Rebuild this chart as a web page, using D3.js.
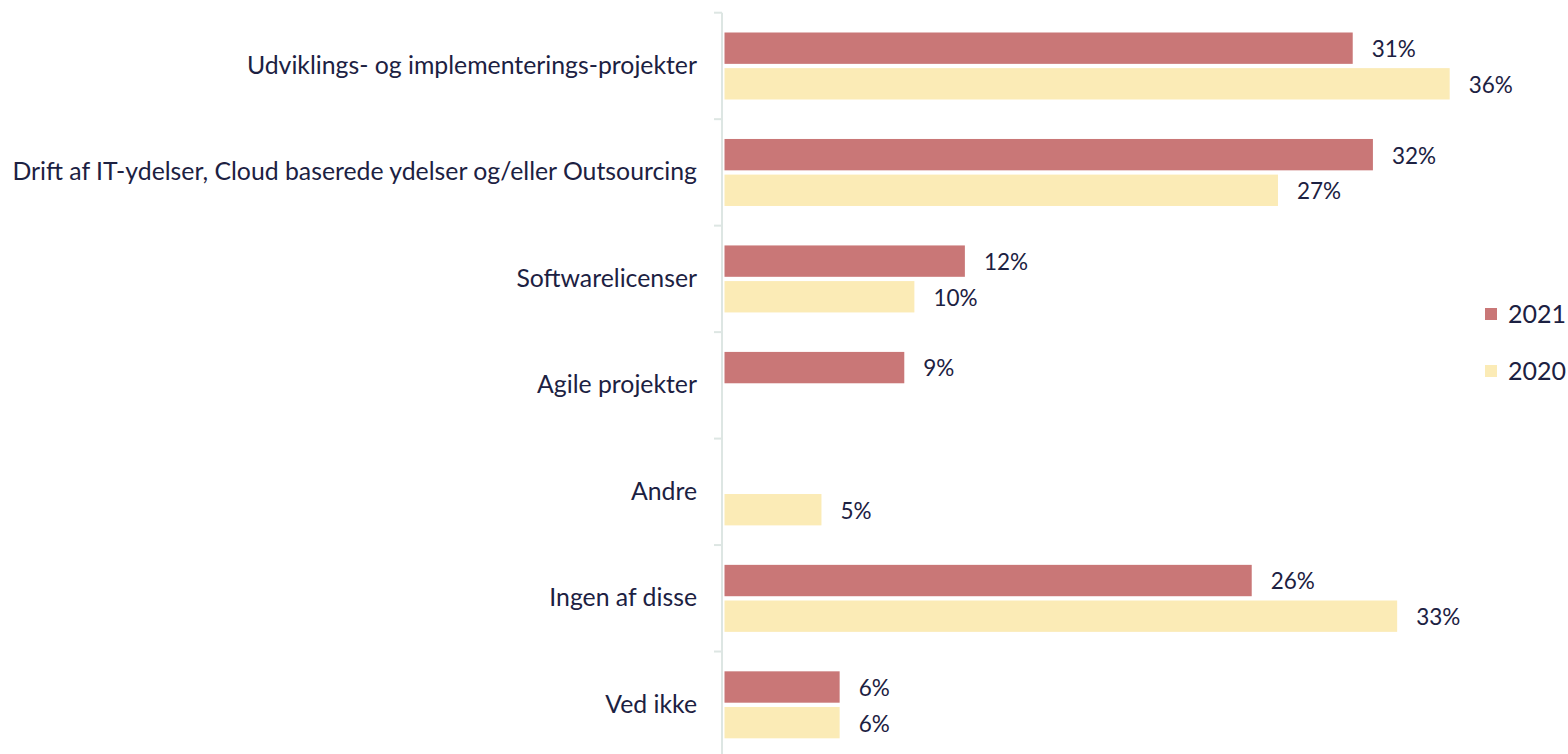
<!DOCTYPE html>
<html>
<head>
<meta charset="utf-8">
<script src="https://cdn.jsdelivr.net/npm/d3@7"></script>
<style>
  body { margin: 0; background: #fff; }
  svg text { font-family: Lato, "Open Sans", sans-serif; fill: #1c2142; }
</style>
</head>
<body>
<div id="chart"></div>
<script>
// categories, top to bottom
let categories = [
    "Udviklings- og implementerings-projekter",
    "Drift af IT-ydelser, Cloud baserede ydelser og/eller Outsourcing",
    "Softwarelicenser",
    "Agile projekter",
    "Andre",
    "Ingen af disse",
    "Ved ikke"
];
let series = ["2021", "2020"];

// values in %, null = no bar
let values2021 = [31.1, 32.1, 11.9, 8.9, null, 26.1, 5.7];
let values2020 = [35.9, 27.4, 9.4, null, 4.8, 33.3, 5.7];

// labels as printed on the chart
let labels2021 = ["31%", "32%", "12%", "9%", "", "26%", "6%"];
let labels2020 = ["36%", "27%", "10%", "", "5%", "33%", "6%"];

let colors = { "2021": "#c97777", "2020": "#fbebb6" };

let width = 1568, height = 754;
let axisX = 722;

let svg = d3.select("#chart")
    .append("svg")
    .attr("width", width)
    .attr("height", height);

// scales
let x = d3.scaleLinear()
    .domain([0, 40])
    .range([axisX + 2.5, axisX + 2.5 + 808]);

let y = d3.scaleBand()
    .domain(categories)
    .range([12.7, 758])
    .padding(0);

let yi = d3.scaleBand()
    .domain(series)
    .range([19.8, 19.8 + 67])
    .paddingInner(0.12);

// rows of data
let rows = categories.map((c, i) => ({
    cat: c,
    bars: [
        { s: "2021", v: values2021[i], label: labels2021[i] },
        { s: "2020", v: values2020[i], label: labels2020[i] }
    ].filter(b => b.v !== null)
}));

// category axis line
svg.append("line")
    .attr("x1", axisX).attr("x2", axisX)
    .attr("y1", y.range()[0]).attr("y2", height)
    .attr("stroke", "#dde6e3")
    .attr("stroke-width", 2);

// ticks at category boundaries
svg.append("g")
    .selectAll("line")
    .data(categories)
    .enter()
    .append("line")
    .attr("x1", axisX - 8).attr("x2", axisX)
    .attr("y1", d => y(d)).attr("y2", d => y(d))
    .attr("stroke", "#dde6e3")
    .attr("stroke-width", 2);

// category labels
let yAxis = svg.append("g")
    .attr("transform", "translate(" + axisX + ",0)")
    .call(d3.axisLeft(y).tickSize(0).tickPadding(25));
yAxis.select(".domain").remove();
yAxis.selectAll("text")
    .style("font-size", "24.8px")
    .style("font-family", "Lato, sans-serif")
    .attr("fill", "#1c2142");

let groups = svg.append("g")
    .selectAll("g")
    .data(rows)
    .enter()
    .append("g")
    .attr("transform", d => "translate(0," + y(d.cat) + ")");

// bars
groups.selectAll("rect")
    .data(d => d.bars)
    .enter()
    .append("rect")
    .attr("x", x(0))
    .attr("y", d => yi(d.s))
    .attr("width", d => x(d.v) - x(0))
    .attr("height", yi.bandwidth())
    .attr("fill", d => colors[d.s]);

// value labels
groups.selectAll("text.val")
    .data(d => d.bars)
    .enter()
    .append("text")
    .attr("class", "val")
    .attr("x", d => x(d.v) + 19)
    .attr("y", d => yi(d.s) + yi.bandwidth() / 2 + 1)
    .attr("dy", "0.35em")
    .style("font-size", "22.5px")
    .text(d => d.label);

// legend
let legend = svg.append("g")
    .selectAll("g")
    .data(series)
    .enter()
    .append("g")
    .attr("transform", (d, i) => "translate(1485," + (314 + i * 57) + ")");

legend.append("rect")
    .attr("x", 0).attr("y", -6)
    .attr("width", 12).attr("height", 12)
    .attr("fill", d => colors[d]);

legend.append("text")
    .attr("x", 23)
    .attr("y", 0)
    .attr("dy", "0.35em")
    .style("font-size", "25px")
    .text(d => d);
</script>
</body>
</html>
